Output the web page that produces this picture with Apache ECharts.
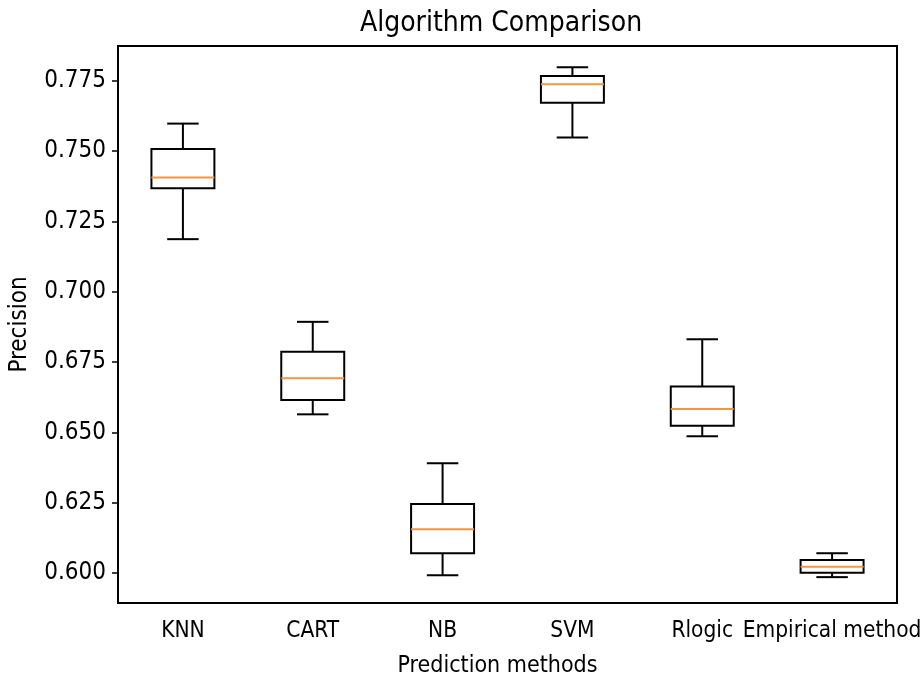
<!DOCTYPE html>
<html>
<head>
<meta charset="utf-8">
<script src="https://cdn.jsdelivr.net/npm/echarts@6/dist/echarts.min.js"></script>
<style>html,body{margin:0;padding:0;background:#fff}#c{width:922px;height:677px}</style>
</head>
<body>
<div id="c"></div>
<script>
const categories = ['KNN', 'CART', 'NB', 'SVM', 'Rlogic', 'Empirical method'];
const lowerWhisker = [0.7187, 0.6564, 0.5992, 0.7549, 0.6486, 0.5985];
const q1 = [0.7368, 0.6615, 0.6070, 0.7672, 0.6523, 0.6001];
const median = [0.7406, 0.6692, 0.6155, 0.7738, 0.6583, 0.6022];
const q3 = [0.7508, 0.6787, 0.6245, 0.7767, 0.6663, 0.6046];
const upperWhisker = [0.7598, 0.6893, 0.6390, 0.7798, 0.6831, 0.6070];
const yTicks = [0.600, 0.625, 0.650, 0.675, 0.700, 0.725, 0.750, 0.775];

const FONT = '"DejaVu Sans Condensed", "DejaVu Sans", sans-serif';
const data = categories.map((c, i) => [i, lowerWhisker[i], q1[i], median[i], q3[i], upperWhisker[i]]);

const chart = echarts.init(document.getElementById('c'));
chart.setOption({
  animation: false,
  backgroundColor: '#fff',
  title: {
    text: 'Algorithm Comparison',
    left: 496, top: 5, textAlign: 'center',
    textStyle: { fontFamily: FONT, fontSize: 28, fontWeight: 'normal', color: '#000' }
  },
  grid: { left: 118, right: 25, top: 46, bottom: 74, outerBoundsMode: 'none', containLabel: false,
    show: true, borderColor: '#000', borderWidth: 2, backgroundColor: 'transparent' },
  xAxis: {
    type: 'category',
    data: categories,
    name: 'Prediction methods',
    nameLocation: 'middle',
    nameGap: 52,
    nameTextStyle: { fontFamily: FONT, fontSize: 23, color: '#000', padding: [0, 20, 0, 0] },
    axisLine: { lineStyle: { color: '#000', width: 2 } },
    axisTick: { alignWithLabel: true, length: 6, lineStyle: { color: '#000', width: 1.5 } },
    axisLabel: { fontFamily: FONT, fontSize: 22.5, color: '#000', margin: 17, interval: 0, hideOverlap: false },
    splitLine: { show: false }
  },
  yAxis: {
    type: 'value',
    min: 0.5893, max: 0.7874,
    name: 'Precision',
    nameLocation: 'middle',
    nameGap: 86,
    nameTextStyle: { fontFamily: FONT, fontSize: 24, color: '#000' },
    axisLine: { show: true, lineStyle: { color: '#000', width: 2 } },
    axisTick: { show: true, length: 6, customValues: yTicks, lineStyle: { color: '#000', width: 1.5 } },
    axisLabel: { fontFamily: FONT, fontSize: 24, color: '#000', margin: 12, customValues: yTicks,
      formatter: v => v.toFixed(3) },
    splitLine: { show: false }
  },
  series: [{
    type: 'custom',
    data: data,
    encode: { x: 0, y: [1, 2, 3, 4, 5] },
    renderItem: function (params, api) {
      const i = api.value(0);
      const band = api.size([1, 0])[0];
      const bw = band * 0.485;
      const cw = bw / 2;
      const lo = api.coord([i, api.value(1)]);
      const b1 = api.coord([i, api.value(2)]);
      const md = api.coord([i, api.value(3)]);
      const b3 = api.coord([i, api.value(4)]);
      const hi = api.coord([i, api.value(5)]);
      const x = lo[0];
      const black = { stroke: '#000', lineWidth: 2, fill: null };
      return {
        type: 'group',
        children: [
          { type: 'line', shape: { x1: x, y1: b1[1], x2: x, y2: lo[1] }, style: black },
          { type: 'line', shape: { x1: x, y1: b3[1], x2: x, y2: hi[1] }, style: black },
          { type: 'line', shape: { x1: x - cw / 2, y1: lo[1], x2: x + cw / 2, y2: lo[1] }, style: black },
          { type: 'line', shape: { x1: x - cw / 2, y1: hi[1], x2: x + cw / 2, y2: hi[1] }, style: black },
          { type: 'rect', shape: { x: x - bw / 2, y: b3[1], width: bw, height: b1[1] - b3[1] }, style: { stroke: '#000', lineWidth: 2, fill: 'none' } },
          { type: 'line', shape: { x1: x - bw / 2, y1: md[1], x2: x + bw / 2, y2: md[1] }, style: { stroke: '#f7953f', lineWidth: 2 } }
        ]
      };
    }
  }]
});
</script>
</body>
</html>
